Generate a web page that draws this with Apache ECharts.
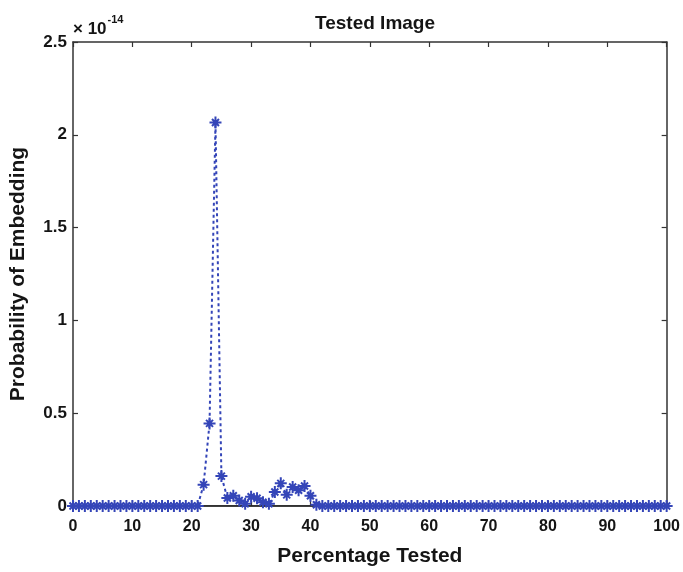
<!DOCTYPE html>
<html>
<head>
<meta charset="utf-8">
<script src="https://cdn.jsdelivr.net/npm/echarts@6/dist/echarts.min.js"></script>
<style>
    html, body {margin: 0; padding: 0; background: #fff;}
    #main {width: 683px; height: 572px;}
</style>
</head>
<body>
<div id="main"></div>
<script>
// 横轴：测试百分比
let percentTested = [
    0, 1, 2, 3, 4, 5, 6, 7, 8, 9, 10, 11, 12, 13, 14, 15, 16, 17, 18, 19, 20,
    21, 22, 23, 24, 25, 26, 27, 28, 29, 30, 31, 32, 33, 34, 35, 36, 37, 38, 39, 40,
    41, 42, 43, 44, 45, 46, 47, 48, 49, 50, 51, 52, 53, 54, 55, 56, 57, 58, 59, 60,
    61, 62, 63, 64, 65, 66, 67, 68, 69, 70, 71, 72, 73, 74, 75, 76, 77, 78, 79, 80,
    81, 82, 83, 84, 85, 86, 87, 88, 89, 90, 91, 92, 93, 94, 95, 96, 97, 98, 99, 100
];
// 嵌入概率 (单位 1e-14)
let probability = [
    0, 0, 0, 0, 0, 0, 0, 0, 0, 0, 0, 0, 0, 0, 0, 0, 0, 0, 0, 0, 0,
    0, 0.115, 0.445, 2.066, 0.161, 0.043, 0.055, 0.03, 0.012, 0.05,
    0.042, 0.02, 0.012, 0.075, 0.122, 0.06, 0.102, 0.085, 0.108, 0.055,
    0.007, 0, 0, 0, 0, 0, 0, 0, 0, 0,
    0, 0, 0, 0, 0, 0, 0, 0, 0, 0,
    0, 0, 0, 0, 0, 0, 0, 0, 0, 0,
    0, 0, 0, 0, 0, 0, 0, 0, 0, 0,
    0, 0, 0, 0, 0, 0, 0, 0, 0, 0,
    0, 0, 0, 0, 0, 0, 0, 0, 0, 0
];
let xTicks = [0, 100, 10];     // min, max, interval
let yTicks = [0, 2.5, 0.5];
let zeroLine = [[0, 0], [100, 0]];

let blue = '#3445b8';
let font = 'Liberation Sans';
let frame = '#333';
let textColor = '#151515';

let seriesData = [];
for (let i = 0; i < percentTested.length; i++) {
    seriesData.push([percentTested[i], probability[i]]);
}

// 星号标记
let asterisk = 'path://M0,-6L0,6M-6,0L6,0M-3.5,-3.5L3.5,3.5M-3.5,3.5L3.5,-3.5';

let axisBase = {
    type: 'value',
    axisLine: {show: true, onZero: false, lineStyle: {color: frame, width: 1.5}},
    axisTick: {show: true, inside: true, length: 5, lineStyle: {color: frame, width: 1.2}},
    splitLine: {show: false}
};

let myChart = echarts.init(document.getElementById('main'));
let option = {
    backgroundColor: '#fff',
    animation: false,
    title: {
        text: 'Tested Image',
        left: 370,
        top: 9,
        textAlign: 'center',
        textStyle: {fontFamily: font, fontSize: 19, fontWeight: 'bold', color: textColor}
    },
    grid: {left: 73, right: 16, top: 42, bottom: 62},
    xAxis: [
        Object.assign({}, axisBase, {
            min: xTicks[0], max: xTicks[1], interval: xTicks[2],
            position: 'bottom',
            name: 'Percentage Tested',
            nameLocation: 'middle',
            nameGap: 40,
            nameTextStyle: {fontFamily: font, fontSize: 21, fontWeight: 'bold', color: textColor},
            axisLabel: {fontFamily: font, fontSize: 16, fontWeight: 'bold', color: textColor, margin: 13}
        }),
        Object.assign({}, axisBase, {
            min: xTicks[0], max: xTicks[1], interval: xTicks[2],
            position: 'top',
            axisLabel: {show: false}
        })
    ],
    yAxis: [
        Object.assign({}, axisBase, {
            min: yTicks[0], max: yTicks[1], interval: yTicks[2],
            position: 'left',
            name: 'Probability of Embedding',
            nameLocation: 'middle',
            nameGap: 44,
            nameTextStyle: {fontFamily: font, fontSize: 21, fontWeight: 'bold', color: textColor},
            axisLabel: {fontFamily: font, fontSize: 17, fontWeight: 'bold', color: textColor, margin: 6}
        }),
        Object.assign({}, axisBase, {
            min: yTicks[0], max: yTicks[1], interval: yTicks[2],
            position: 'right',
            axisLabel: {show: false}
        })
    ],
    graphic: [{
        type: 'text',
        left: 73,
        top: 14,
        style: {
            text: '{a|× 10}{b|-14}',
            rich: {
                a: {fontFamily: font, fontSize: 17, fontWeight: 'bold', fill: textColor, padding: [10, 0, 0, 0]},
                b: {fontFamily: font, fontSize: 11, fontWeight: 'bold', fill: textColor, padding: [0, 0, 9, 1]}
            }
        }
    }],
    series: [
        {
            type: 'line',
            data: zeroLine,
            symbol: 'none',
            silent: true,
            z: 1,
            lineStyle: {color: '#222', width: 1.6}
        },
        {
            type: 'line',
            data: seriesData,
            symbol: asterisk,
            symbolSize: 12,
            showSymbol: true,
            z: 2,
            itemStyle: {color: 'none', borderColor: blue, borderWidth: 2},
            lineStyle: {color: blue, width: 2, type: [3, 3]}
        }
    ]
};
myChart.setOption(option);
</script>
</body>
</html>
